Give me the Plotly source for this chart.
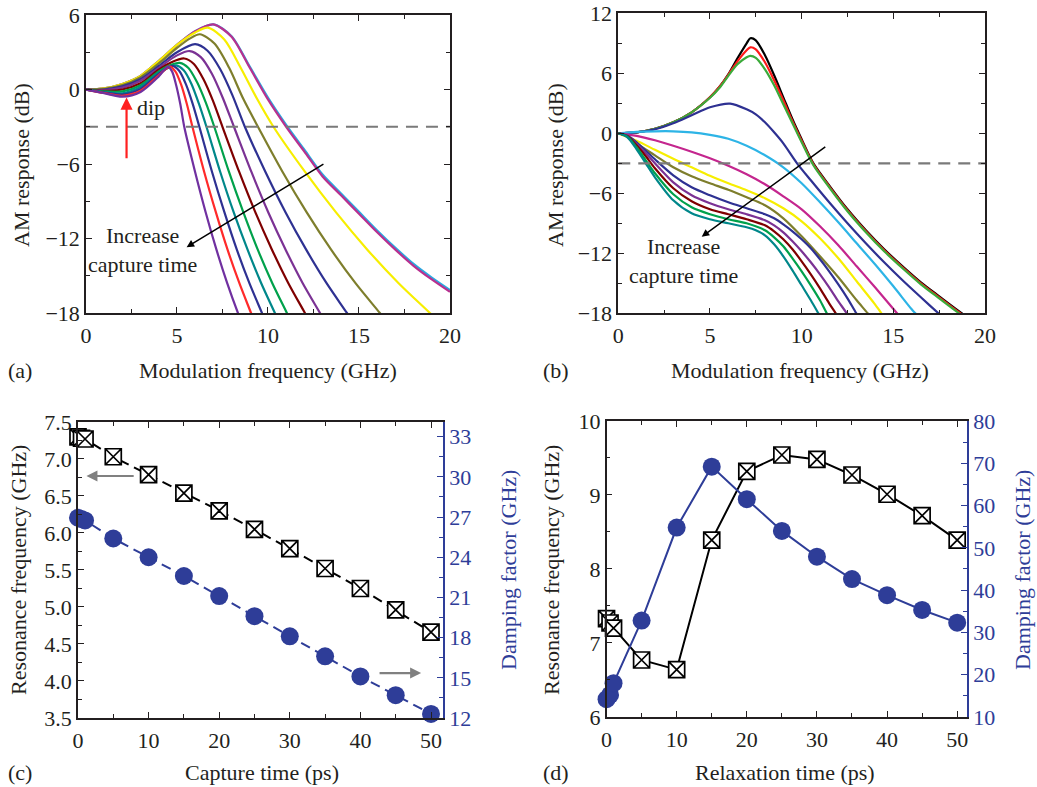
import plotly.graph_objects as go

FONT = "Liberation Serif, Times New Roman, serif"
BLUE = "#2E3D98"
TXT = "#231F20"

# ---------------- Panel (a): AM response vs modulation frequency ----------------
a_colors = ["#29A9E0", "#B8308F", "#F7EE00", "#7E7E2C", "#2E3192", "#7B3294",
            "#7F0000", "#00A14B", "#00878A", "#2E3192", "#FF2A2A", "#7030A0"]
a_f = [
    [0, 1, 2, 3, 4, 5, 6, 7, 8, 9, 10, 11, 12, 13, 14, 15, 16, 17, 18, 19, 20],
    [0, 1, 2, 3, 4, 5, 6, 7, 8, 9, 10, 11, 12, 13, 14, 15, 16, 17, 18, 19, 20],
    [0, 1, 2, 3, 4, 5, 6, 6.7, 7.6, 8.5, 9.4, 10.3, 12.02, 13.74, 15.46, 17.18, 18.9, 20.62],
    [0, 1, 2, 3, 4, 5, 5.7, 6.26, 7.06, 7.86, 8.65, 9.45, 10.79, 12.13, 13.47, 14.81, 16.15, 17.49],
    [0, 1, 2, 3, 4, 5, 6.0, 6.68, 7.37, 8.05, 8.73, 9.85, 10.97, 12.1, 13.22, 14.34, 15.46],
    [0, 1, 2, 3, 4, 5, 5.7, 6.31, 6.92, 7.52, 8.13, 9.08, 10.02, 10.97, 11.91, 12.86, 13.81],
    [0, 1, 2, 3, 4, 4.7, 5.4, 5.93, 6.45, 6.98, 7.5, 8.41, 9.31, 10.22, 11.12, 12.03, 12.94],
    [0, 1, 2, 3, 4, 4.6, 5.15, 5.63, 6.1, 6.58, 7.05, 7.85, 8.65, 9.44, 10.24, 11.04, 11.84],
    [0, 1, 2, 3, 4, 4.95, 5.37, 5.79, 6.2, 6.62, 7.37, 8.12, 8.88, 9.63, 10.38, 11.13],
    [0, 1, 2, 3, 4, 4.75, 5.12, 5.49, 5.86, 6.23, 6.92, 7.61, 8.29, 8.98, 9.67, 10.36],
    [0, 1, 2, 3, 4, 4.6, 4.91, 5.23, 5.54, 5.85, 6.49, 7.14, 7.78, 8.43, 9.07, 9.71],
    [0, 1, 2, 3, 4, 4.5, 4.73, 4.95, 5.18, 5.4, 5.99, 6.58, 7.17, 7.76, 8.35, 8.94],
]
a_db = [
    [0, 0.1, 0.45, 1.1, 2.3, 3.6, 4.7, 5.25, 4.3, 1.85, -0.65, -2.85, -4.85, -6.85, -8.35, -9.85, -11.35, -12.75, -14.05, -15.15, -16.15],
    [0, 0.1, 0.45, 1.1, 2.3, 3.6, 4.7, 5.25, 4.25, 1.75, -0.8, -3.0, -5.0, -7.0, -8.5, -10.0, -11.5, -12.9, -14.2, -15.3, -16.3],
    [0, 0.1, 0.45, 1.1, 2.3, 3.6, 4.6, 4.98, 4.02, 1.75, -0.75, -3.0, -6.6, -9.9, -12.9, -15.6, -18.0, -20.4],
    [0, 0.05, 0.35, 1.0, 2.1, 3.35, 4.1, 4.45, 3.7, 1.77, -0.77, -3.0, -6.6, -9.9, -12.9, -15.6, -18.0, -20.4],
    [0, 0.0, 0.25, 0.85, 1.9, 3.0, 3.65, 3.12, 1.65, -0.47, -3.0, -6.6, -9.9, -12.9, -15.6, -18.0, -20.4],
    [0, -0.05, 0.15, 0.7, 1.75, 2.75, 3.1, 2.61, 1.27, -0.68, -3.0, -6.6, -9.9, -12.9, -15.6, -18.0, -20.4],
    [0, -0.1, 0.0, 0.5, 1.6, 2.2, 2.5, 2.06, 0.85, -0.91, -3.0, -6.6, -9.9, -12.9, -15.6, -18.0, -20.4],
    [0, -0.15, -0.15, 0.35, 1.45, 1.95, 2.15, 1.74, 0.6, -1.04, -3.0, -6.6, -9.9, -12.9, -15.6, -18.0, -20.4],
    [0, -0.2, -0.3, 0.2, 1.35, 1.95, 1.55, 0.47, -1.12, -3.0, -6.6, -9.9, -12.9, -15.6, -18.0, -20.4],
    [0, -0.25, -0.4, 0.05, 1.25, 1.9, 1.51, 0.43, -1.14, -3.0, -6.6, -9.9, -12.9, -15.6, -18.0, -20.4],
    [0, -0.28, -0.5, -0.1, 1.15, 1.85, 1.46, 0.39, -1.15, -3.0, -6.6, -9.9, -12.9, -15.6, -18.0, -20.4],
    [0, -0.3, -0.58, -0.2, 1.05, 1.85, 1.46, 0.39, -1.15, -3.0, -6.6, -9.9, -12.9, -15.6, -18.0, -20.2],
]

# ---------------- Panel (b) ----------------
b_colors = ["#000000", "#FF1A1A", "#3BAA3A", "#2E3192", "#2DB4E6", "#C4268E", "#F7EE00",
            "#7E7E2C", "#2E3192", "#7B3294", "#7F0000", "#00A14B", "#00878A"]
b_f = [
    [0, 1, 2, 3, 4, 5, 5.5, 6, 6.5, 7, 7.2, 7.5, 8, 8.5, 9, 9.5, 10, 10.64, 11.5, 12.5, 13.5, 14.5, 15.5, 16.5, 17.5, 18.74, 19.5],
    [0, 1, 2, 3, 4, 5, 5.5, 6, 6.5, 7, 7.2, 7.5, 8, 8.5, 9, 9.5, 10, 10.64, 11.5, 12.5, 13.5, 14.5, 15.5, 16.5, 17.5, 18.74, 19.5],
    [0, 1, 2, 3, 4, 5, 5.5, 6, 6.5, 7, 7.2, 7.5, 8, 8.5, 9, 9.5, 10, 10.64, 11.5, 12.5, 13.5, 14.5, 15.5, 16.5, 17.5, 18.74, 19.5],
    [0, 1, 2, 3, 4, 5, 6.1, 7, 7.5, 8, 8.5, 9, 9.75, 10.5, 11.5, 12.5, 13.5, 14.5, 15.5, 16.5, 17.46, 18.5],
    [0, 1, 2, 3, 4, 5, 6, 7, 8, 9, 10, 11, 12, 13, 14, 15, 16, 16.2, 17],
    [0, 1, 2, 3, 4, 5, 6, 7, 8, 9, 10, 11, 12, 13, 14, 15.2, 16],
    [0, 1, 2, 3, 4, 5, 6, 7, 8, 9, 10, 11, 12, 13, 14, 14.35, 15],
    [0, 0.5, 1, 2, 3, 4, 5, 6, 7, 8, 9, 10, 11, 12, 13, 13.6, 14.3],
    [0, 0.5, 1, 1.5, 2, 3, 4, 5, 6, 7, 8, 8.5, 9, 9.5, 10, 10.5, 11, 11.5, 12, 12.5, 12.98, 13.5],
    [0, 0.5, 1, 1.5, 2, 3, 4, 5, 6, 7, 8, 8.5, 9, 9.5, 10, 10.5, 11, 11.5, 12, 12.46, 13],
    [0, 0.5, 1, 1.5, 2, 3, 4, 5, 6, 7, 8, 8.5, 9, 9.5, 10, 10.5, 11, 11.5, 11.86, 12.5],
    [0, 0.5, 1, 1.5, 2, 3, 4, 5, 6, 7, 8, 8.5, 9, 9.5, 10, 10.5, 11, 11.37, 12],
    [0, 0.5, 1, 1.5, 2, 3, 4, 5, 6, 7, 7.5, 8, 8.5, 9, 9.5, 10, 10.5, 10.91, 11.5],
]
b_db = [
    [0, 0.1, 0.45, 1.1, 2.1, 3.6, 4.6, 5.9, 7.5, 9.0, 9.5, 9.3, 7.8, 5.8, 3.6, 1.4, -0.6, -3.0, -5.2, -7.6, -9.7, -11.6, -13.3, -14.9, -16.3, -18.0, -18.9],
    [0, 0.1, 0.45, 1.1, 2.1, 3.6, 4.6, 5.85, 7.2, 8.3, 8.6, 8.4, 7.1, 5.3, 3.3, 1.2, -0.75, -3.1, -5.3, -7.7, -9.8, -11.7, -13.4, -15.0, -16.4, -18.1, -19.0],
    [0, 0.1, 0.45, 1.1, 2.1, 3.55, 4.5, 5.75, 6.9, 7.6, 7.75, 7.55, 6.4, 4.8, 2.9, 1.0, -0.9, -3.2, -5.4, -7.8, -9.9, -11.8, -13.5, -15.1, -16.5, -18.2, -19.1],
    [0, 0.1, 0.4, 1.0, 1.8, 2.6, 2.97, 2.4, 1.9, 1.1, 0.1, -1.0, -3.0, -4.7, -6.9, -9.0, -11.0, -12.9, -14.7, -16.4, -18.0, -19.7],
    [0, 0.15, 0.2, 0.2, 0.1, -0.15, -0.55, -1.25, -2.2, -3.4, -5.0, -6.9, -8.9, -11.0, -13.1, -15.3, -17.6, -18.0, -19.6],
    [0, -0.25, -0.7, -1.25, -1.85, -2.5, -3.25, -4.1, -5.1, -6.3, -7.6, -9.3, -11.2, -13.3, -15.4, -18.0, -19.7],
    [0, -0.75, -1.65, -2.55, -3.4, -4.25, -5.0, -5.7, -6.5, -7.5, -8.8, -10.5, -12.5, -14.8, -17.1, -18.0, -19.5],
    [0, -0.3, -1.0, -2.2, -3.4, -4.3, -5.0, -5.65, -6.4, -7.2, -8.5, -10.3, -12.3, -14.4, -16.7, -18.0, -19.6],
    [0, -0.25, -0.9, -1.75, -2.6, -4.2, -5.4, -6.2, -6.9, -7.5, -8.1, -8.5, -9.1, -9.8, -10.6, -11.5, -12.6, -13.8, -15.1, -16.5, -18.0, -19.5],
    [0, -0.28, -1.05, -2.0, -3.0, -4.9, -6.2, -7.0, -7.6, -8.1, -8.7, -9.2, -9.9, -10.8, -11.8, -12.9, -14.1, -15.4, -16.8, -18.0, -19.5],
    [0, -0.3, -1.2, -2.3, -3.5, -5.5, -6.8, -7.6, -8.1, -8.6, -9.2, -9.8, -10.6, -11.6, -12.8, -14.1, -15.5, -17.0, -18.0, -19.8],
    [0, -0.33, -1.4, -2.7, -4.0, -6.1, -7.4, -8.1, -8.6, -9.0, -9.7, -10.4, -11.3, -12.5, -13.8, -15.2, -16.7, -18.0, -20.0],
    [0, -0.4, -1.6, -3.0, -4.4, -6.7, -8.0, -8.6, -9.0, -9.4, -9.7, -10.2, -11.1, -12.3, -13.7, -15.2, -16.7, -18.0, -19.9],
]
level_3db = -3

# ---------------- Panel (c) ----------------
c_time = [0, 0.5, 1, 5, 10, 15, 20, 25, 30, 35, 40, 45, 50]
c_res = [7.30, 7.28, 7.27, 7.03, 6.79, 6.54, 6.30, 6.05, 5.79, 5.52, 5.25, 4.96, 4.66]
c_damp = [26.95, 26.85, 26.75, 25.4, 24.0, 22.6, 21.1, 19.6, 18.1, 16.6, 15.1, 13.7, 12.3]

# ---------------- Panel (d) ----------------
d_time = [0, 0.5, 1, 5, 10, 15, 20, 25, 30, 35, 40, 45, 50]
d_res = [7.33, 7.27, 7.20, 6.77, 6.64, 8.39, 9.32, 9.54, 9.48, 9.27, 9.01, 8.72, 8.39]
d_damp = [14.2, 15.2, 18.0, 32.8, 54.8, 69.2, 61.5, 54.0, 47.9, 42.6, 38.8, 35.3, 32.3]

fig = go.Figure()

for f, v, c in zip(a_f, a_db, a_colors):
    fig.add_trace(go.Scatter(x=f, y=v, mode="lines", line=dict(color=c, width=2.2, shape="spline", smoothing=0.8),
                             xaxis="x", yaxis="y", showlegend=False, hoverinfo="skip"))
fig.add_trace(go.Scatter(x=[0, 20], y=[level_3db, level_3db], mode="lines",
                         line=dict(color="#7A7A7A", width=2.2, dash="12px,8px"), xaxis="x", yaxis="y", showlegend=False))

for f, v, c in zip(b_f, b_db, b_colors):
    fig.add_trace(go.Scatter(x=f, y=v, mode="lines", line=dict(color=c, width=2.2, shape="spline", smoothing=0.8),
                             xaxis="x2", yaxis="y2", showlegend=False, hoverinfo="skip"))
fig.add_trace(go.Scatter(x=[0, 20], y=[level_3db, level_3db], mode="lines",
                         line=dict(color="#7A7A7A", width=2.2, dash="12px,8px"), xaxis="x2", yaxis="y2", showlegend=False))

sq = dict(symbol="square-x", size=16, color="white", line=dict(color="black", width=1.7))
ci = dict(symbol="circle", size=18, color=BLUE)

fig.add_trace(go.Scatter(x=c_time, y=c_res, mode="lines+markers", marker=sq, cliponaxis=False,
                         line=dict(color="black", width=2, dash="10px,6px"), xaxis="x3", yaxis="y3", showlegend=False))
fig.add_trace(go.Scatter(x=c_time, y=c_damp, mode="lines+markers", marker=ci, cliponaxis=False,
                         line=dict(color=BLUE, width=2, dash="10px,6px"), xaxis="x3", yaxis="y4", showlegend=False))

fig.add_trace(go.Scatter(x=d_time, y=d_res, mode="lines+markers", marker=sq, cliponaxis=False,
                         line=dict(color="black", width=2), xaxis="x4", yaxis="y5", showlegend=False))
fig.add_trace(go.Scatter(x=d_time, y=d_damp, mode="lines+markers", marker=ci, cliponaxis=False,
                         line=dict(color=BLUE, width=2), xaxis="x4", yaxis="y6", showlegend=False))

TICK = 22
tickfont = dict(family=FONT, size=TICK, color=TXT)
LC = "#231F20"


def xax(domain, rng, dtick, minor, anchor):
    return dict(domain=domain, range=rng, tick0=0, dtick=dtick, ticks="inside", ticklen=6, tickwidth=1.3,
                tickcolor=LC, minor=dict(ticks="inside", dtick=minor, tick0=0, ticklen=4, tickwidth=1.3, tickcolor=LC),
                showline=True, linecolor=LC, linewidth=1.5, mirror="ticks", showgrid=False, zeroline=False,
                anchor=anchor, tickfont=tickfont, ticklabelstandoff=2, automargin=False)


def yax(domain, rng, tick0, dtick, minor, anchor, mirror="ticks", fmt=None):
    d = dict(domain=domain, range=rng, tick0=tick0, dtick=dtick, ticks="inside", ticklen=6, tickwidth=1.3,
             tickcolor=LC, minor=dict(ticks="inside", dtick=minor, tick0=tick0, ticklen=4, tickwidth=1.3, tickcolor=LC),
             showline=True, linecolor=LC, linewidth=1.5, mirror=mirror, showgrid=False, zeroline=False,
             anchor=anchor, tickfont=tickfont, automargin=False)
    if fmt:
        d["tickformat"] = fmt
    return d


def yright(domain, rng, tick0, dtick, minor, anchor, overlay):
    return dict(domain=domain, range=rng, tick0=tick0, dtick=dtick, ticks="inside", ticklen=6, tickwidth=1.3,
                tickcolor=BLUE, minor=dict(ticks="inside", dtick=minor, tick0=tick0, ticklen=4, tickwidth=1.3, tickcolor=BLUE),
                showline=True, linecolor=BLUE, linewidth=1.5, showgrid=False, zeroline=False,
                anchor=anchor, overlaying=overlay, side="right", automargin=False,
                tickfont=dict(family=FONT, size=TICK, color=BLUE))


fig.update_layout(
    width=1037, height=787, margin=dict(l=0, r=0, t=0, b=0, autoexpand=False),
    paper_bgcolor="white", plot_bgcolor="white", showlegend=False,
    font=dict(family=FONT, size=TICK, color=TXT),
    xaxis=xax([0.0829, 0.4339], [0, 20], 5, 2.5, "y"),
    yaxis=yax([0.6023, 0.9809], [-18, 6], 0, 6, 3, "x"),
    xaxis2=xax([0.5962, 0.9499], [0, 20], 5, 2.5, "y2"),
    yaxis2=yax([0.6019, 0.9831], [-18, 12], 0, 6, 3, "x2"),
    xaxis3=xax([0.0752, 0.4272], [0, 51.7], 10, 5, "y3"),
    yaxis3=yax([0.0877, 0.4638], [3.5, 7.5], 3.5, 0.5, 0.25, "x3", mirror=False, fmt=".1f"),
    yaxis4=yright([0.0877, 0.4638], [12, 34.1], 12, 3, 1.5, "x3", "y3"),
    xaxis4=xax([0.5849, 0.9325], [0, 51.4], 10, 5, "y5"),
    yaxis5=yax([0.0890, 0.4651], [6, 10], 6, 1, 0.5, "x4", mirror=False),
    yaxis6=yright([0.0890, 0.4651], [10, 80], 10, 10, 5, "x4", "y5"),
)

ann = []
TS = 22


def ptext(text, x, y, angle=0, color=TXT, xanchor="center", size=TS):
    ann.append(dict(text=text, x=x / 1037, y=1 - y / 787, xref="paper", yref="paper", showarrow=False,
                    textangle=angle, xanchor=xanchor, yanchor="middle", font=dict(family=FONT, size=size, color=color)))


ptext("AM response (dB)", 22, 165, -90)
ptext("Modulation frequency (GHz)", 268, 370)
ptext("(a)", 6, 370, xanchor="left")
ptext("AM response (dB)", 556, 165, -90)
ptext("Modulation frequency (GHz)", 800, 370)
ptext("(b)", 541, 370, xanchor="left")
ptext("Resonance frequency (GHz)", 18, 570, -90)
ptext("Damping factor (GHz)", 508, 570, -90, color=BLUE)
ptext("Capture time (ps)", 262, 772)
ptext("(c)", 6, 772, xanchor="left")
ptext("Resonance frequency (GHz)", 551, 570, -90)
ptext("Damping factor (GHz)", 1022, 570, -90, color=BLUE)
ptext("Relaxation time (ps)", 785, 772)
ptext("(d)", 541, 772, xanchor="left")

# panel (a) annotations
ann.append(dict(x=2.23, y=-0.65, ax=2.23, ay=-5.65, xref="x", yref="y", axref="x", ayref="y",
                showarrow=True, arrowhead=2, arrowsize=1.1, arrowwidth=2.2, arrowcolor="#FF2020", text=""))
ann.append(dict(x=3.55, y=-1.45, xref="x", yref="y", text="dip", showarrow=False,
                font=dict(family=FONT, size=TS, color=TXT)))
ann.append(dict(x=5.53, y=-12.7, ax=13.13, ay=-5.94, xref="x", yref="y", axref="x", ayref="y",
                showarrow=True, arrowhead=2, arrowsize=1, arrowwidth=1.5, arrowcolor="black", text=""))
ann.append(dict(x=3.1, y=-12.9, xref="x", yref="y", text="Increase<br>capture time", showarrow=False,
                align="center", font=dict(family=FONT, size=TS, color=TXT)))
# panel (b) annotations
ann.append(dict(x=4.55, y=-10.34, ax=11.37, ay=-1.24, xref="x2", yref="y2", axref="x2", ayref="y2",
                showarrow=True, arrowhead=2, arrowsize=1, arrowwidth=1.5, arrowcolor="black", text=""))
ann.append(dict(x=3.55, y=-12.75, xref="x2", yref="y2", text="Increase<br>capture time", showarrow=False,
                align="center", font=dict(family=FONT, size=TS, color=TXT)))
# panel (c) gray arrows
ann.append(dict(x=1.2, y=6.77, ax=8.1, ay=6.77, xref="x3", yref="y3", axref="x3", ayref="y3",
                showarrow=True, arrowhead=2, arrowsize=1, arrowwidth=2.2, arrowcolor="#808080", text=""))
ann.append(dict(x=48.6, y=4.107, ax=42.5, ay=4.107, xref="x3", yref="y3", axref="x3", ayref="y3",
                showarrow=True, arrowhead=2, arrowsize=1, arrowwidth=2.2, arrowcolor="#808080", text=""))

fig.update_layout(annotations=ann)
fig.write_html("out.html", config={"displayModeBar": False},
               post_script="document.body.style.margin='0';document.body.style.overflow='hidden';")
